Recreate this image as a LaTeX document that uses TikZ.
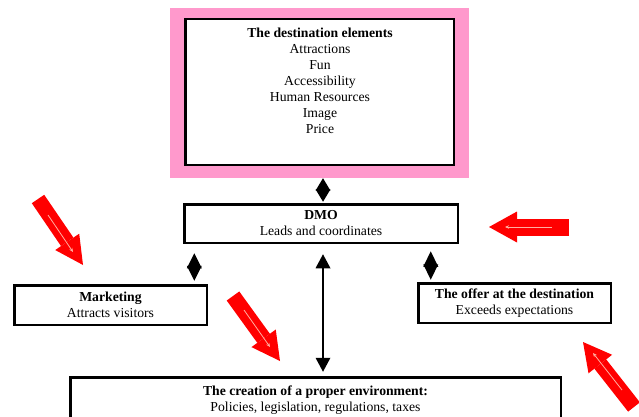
\documentclass[tikz,border=0pt]{standalone}
\usepackage{fontspec}
\setmainfont{Liberation Serif}
\usetikzlibrary{arrows.meta,calc}
\definecolor{pinkframe}{RGB}{255,153,204}
\definecolor{glintcol}{RGB}{255,175,160}
\begin{document}
\begin{tikzpicture}[x=1pt,y=-1pt,
  font=\fontsize{13.7}{16}\selectfont,
  box/.style={draw, line width=2.5pt, fill=white, rectangle, inner sep=0pt, align=center},
  dbl/.style={line width=1.6pt, {Triangle[width=15pt,length=#1,line width=0pt]}-{Triangle[width=15pt,length=#1,line width=0pt]}},
  blockarrow/.style n args={3}{draw=red, line width=#1, -{Triangle[width=#2,length=#3,line width=0pt]}},
  glint/.style={draw=glintcol, line width=0.8pt, -{Stealth[length=4pt,width=3.5pt]}}]
\path[use as bounding box, clip] (0,0) rectangle (639,417);
\fill[white] (0,0) rectangle (639,417);

\node[fill=pinkframe, minimum width=299pt, minimum height=170pt, inner sep=0pt] (dest) at (319.5,93) {};
\node[box, minimum width=268.5pt, minimum height=145.5pt] (destbox) at (319.5,92) {};
\node[anchor=north, inner sep=0pt, align=center] (desttext) at (320,28) {\textbf{The destination elements}\\Attractions\\Fun\\Accessibility\\Human Resources\\Image\\Price};

\node[box, minimum width=273.5pt, minimum height=38.5pt] (dmo) at (321,223.5) {\textbf{DMO}\\Leads and coordinates};
\node[box, minimum width=192.5pt, minimum height=39.5pt] (mkt) at (110.5,305) {\textbf{Marketing}\\Attracts visitors};
\node[box, minimum width=192.5pt, minimum height=39.5pt] (offer) at (514.5,303) {\textbf{The offer at the destination}\\Exceeds expectations};
\node[box, minimum width=490.5pt, minimum height=45pt] (env) at (315.5,399.75) {\textbf{The creation of a proper environment:}\\Policies, legislation, regulations, taxes};

\coordinate (a0) at ([xshift=3.5pt]dest.south);
\draw[dbl=12.5pt, shorten >=1.25pt] (a0) -- (a0 |- dmo.north);
\coordinate (a1) at ([xshift=11.25pt]dmo.south west);
\draw[dbl=15pt, shorten <=9.25pt, shorten >=3.25pt] (a1) -- (a1 |- mkt.north);
\coordinate (a2) at ([xshift=-28.25pt]dmo.south east);
\draw[dbl=15.5pt, shorten <=7.25pt, shorten >=2.25pt] (a2) -- (a2 |- offer.north);
\coordinate (a3) at ([xshift=2pt]dmo.south);
\draw[dbl=14pt, shorten <=10.25pt, shorten >=4.25pt] (a3) -- (a3 |- env.north);

\coordinate (r1t) at (38,199); \coordinate (r1h) at (83,265);
\draw[blockarrow={15pt}{29pt}{28pt}] (r1t) -- (r1h);
\coordinate (g1t) at (48,215); \coordinate (g1h) at (73,252);
\draw[glint] (g1t) -- (g1h);

\coordinate (r2t) at (233,296); \coordinate (r2h) at (280,361);
\draw[blockarrow={15.5pt}{30pt}{28pt}] (r2t) -- (r2h);
\coordinate (g2t) at (244,310); \coordinate (g2h) at (270,347);
\draw[glint] (g2t) -- (g2h);

\coordinate (r3t) at (569,227); \coordinate (r3h) at (489,227);
\draw[blockarrow={17pt}{31pt}{28pt}] (r3t) -- (r3h);
\coordinate (g3t) at (552,227); \coordinate (g3h) at (505,227);
\draw[glint] (g3t) -- (g3h);

\coordinate (r4t) at (634,407); \coordinate (r4h) at (583,342);
\draw[blockarrow={15pt}{30pt}{28pt}] (r4t) -- (r4h);
\coordinate (g4t) at (622,390); \coordinate (g4h) at (593,353);
\draw[glint] (g4t) -- (g4h);
\end{tikzpicture}
\end{document}
